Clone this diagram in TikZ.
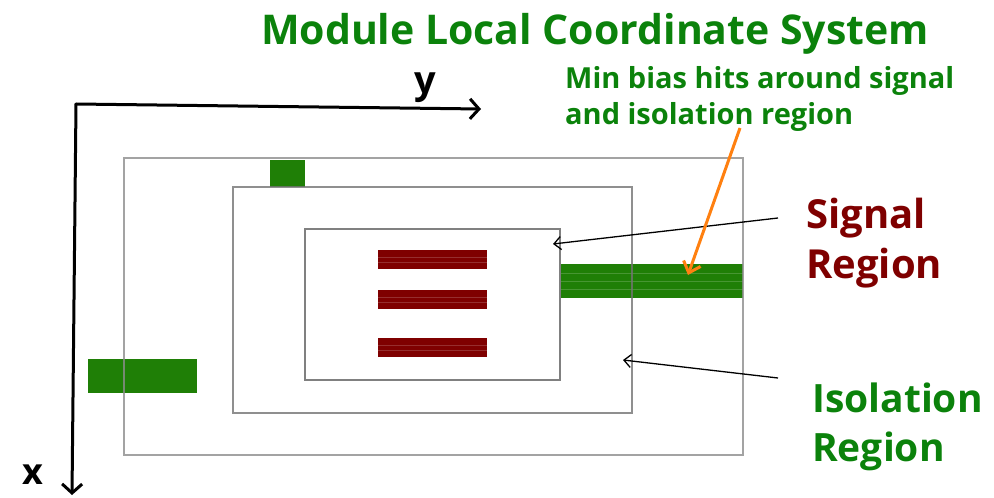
\documentclass[tikz,border=0pt]{standalone}
\usepackage{fontspec}
\setmainfont{Open Sans}
\usetikzlibrary{arrows.meta}
\definecolor{hitgreen}{HTML}{1F7F06}
\definecolor{txtgreen}{HTML}{0B820B}
\definecolor{sigred}{HTML}{7F0000}
\definecolor{arrorange}{HTML}{FF8010}
\tikzset{
  frame/.style={draw=black!45, line width=1.3pt},
  hit/.style={fill=hitgreen, draw=none},
  sigbar/.style={fill=sigred, draw=none},
  axis/.style={line width=3pt, line cap=round, -{Straight Barb[length=9pt,width=20pt,line width=3pt]}},
  pointer/.style={line width=1.3pt, -{Straight Barb[length=7pt,width=13pt,line width=1.3pt]}},
  label/.style={font=\bfseries, inner sep=0pt, anchor=base west},
}
\begin{document}
\begin{tikzpicture}[x=1pt,y=-1pt]
  \useasboundingbox (0,0) rectangle (994,498);

  % minimum-bias hits (green)
  \fill[hit] (270,160) rectangle (305,187);
  \fill[hit] (560,264) rectangle (743,298);
  \fill[hit] (88,359) rectangle (197,393);
  \foreach \yy in {273,281,289}
    \draw[white, opacity=0.18, line width=0.8pt] (560,\yy) -- (743,\yy);

  % signal hits (dark red)
  \foreach \yy in {250,290,338} {
    \fill[sigbar] (378,\yy) rectangle (487,\yy+19);
    \draw[white, opacity=0.18, line width=0.6pt] (378,\yy+7) -- (487,\yy+7);
    \draw[white, opacity=0.18, line width=0.6pt] (378,\yy+12) -- (487,\yy+12);
  }

  % module, isolation and signal region frames
  \draw[frame, draw opacity=0.8] (124,158) rectangle (743,455);
  \draw[frame, draw=black!55, draw opacity=0.8] (233,187) rectangle (632,413);
  \draw[frame, draw=black!50] (305,229) rectangle (560,380);

  % local axes
  \coordinate (origin) at (76,104);
  \coordinate (yend) at (481,109);
  \coordinate (xend) at (72,495);
  \draw[axis] (origin) -- (yend);
  \draw[axis] (origin) -- (xend);
  \node[font=\bfseries\fontsize{38}{38}\selectfont, anchor=base] (ylab) at (425,93) {y};
  \node[font=\bfseries\fontsize{36}{36}\selectfont, anchor=base] (xlab) at (33,484) {x};

  % title
  \node[label, text=txtgreen, font=\bfseries\fontsize{41}{41}\selectfont, anchor=base] (title) at (595,44) {Module Local Coordinate System};

  % annotations
  \node[label, text=txtgreen, font=\bfseries\fontsize{29}{29}\selectfont] (minbias) at (565,88) {Min bias hits around signal};
  \node[label, text=txtgreen, font=\bfseries\fontsize{29}{29}\selectfont] (minbias2) at (565,124) {and isolation region};
  \node[label, text=sigred, font=\bfseries\fontsize{40}{40}\selectfont] (sig1) at (806,228) {Signal};
  \node[label, text=sigred, font=\bfseries\fontsize{40}{40}\selectfont] (sig2) at (806,278) {Region};
  \node[label, text=txtgreen, font=\bfseries\fontsize{39}{39}\selectfont] (iso1) at (812,412) {Isolation};
  \node[label, text=txtgreen, font=\bfseries\fontsize{39}{39}\selectfont] (iso2) at (812,461) {Region};

  % pointers
  \coordinate (sigstart) at (778,218);
  \coordinate (sigtip) at (553,244);
  \coordinate (isostart) at (778,378);
  \coordinate (isotip) at (623,360);
  \coordinate (mbstart) at (740,128);
  \coordinate (mbtip) at (688,275);
  \draw[pointer] (sigstart) -- (sigtip);
  \draw[pointer] (isostart) -- (isotip);
  \draw[pointer, draw=arrorange, line width=3pt, -{Straight Barb[length=10pt,width=18pt,line width=3pt]}] (mbstart) -- (mbtip);
\end{tikzpicture}
\end{document}
